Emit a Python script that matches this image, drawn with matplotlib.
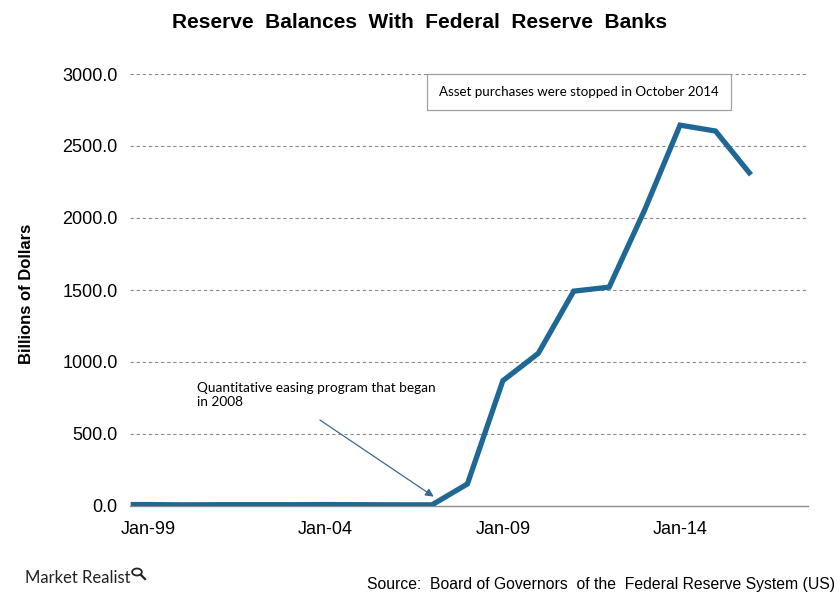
import matplotlib
matplotlib.use("Agg")
import matplotlib.pyplot as plt
from matplotlib.patches import Circle
from matplotlib.lines import Line2D

plt.rcParams['font.family'] = ['Liberation Sans', 'DejaVu Sans']

# Data (billions of dollars, annual readings)
years = [1998.5, 1999, 2000, 2001, 2002, 2003, 2004, 2005, 2006, 2007,
         2008, 2009, 2010, 2011, 2012, 2013, 2014, 2015, 2016]
balances = [10, 10, 8, 9, 9, 9, 10, 9, 8, 8,
            153, 870, 1060, 1492, 1520, 2055, 2645, 2604, 2300]
tick_years = [1999, 2004, 2009, 2014]
tick_labels = ["Jan-99", "Jan-04", "Jan-09", "Jan-14"]
y_ticks = [0, 500, 1000, 1500, 2000, 2500, 3000]

fig = plt.figure(figsize=(8.4, 6.0), dpi=100)
ax = fig.add_axes([130/840, 1-506/600, 678/840, 432/600])

ax.plot(years, balances, color='#1f6794', linewidth=3.8, solid_joinstyle='miter',
        solid_capstyle='butt', zorder=3)

ax.set_xlim(1998.48, 2017.61)
ax.set_ylim(0, 3000)
ax.set_yticks(y_ticks)
ax.set_yticklabels([f"{v:.1f}" for v in y_ticks], fontsize=13)
ax.set_xticks(tick_years)
ax.set_xticklabels(tick_labels, fontsize=13)
ax.tick_params(length=0, pad=11)
ax.tick_params(axis='y', pad=9)

for s in ['top', 'right', 'left']:
    ax.spines[s].set_visible(False)
ax.spines['bottom'].set_color('#8c8c8c')
ax.spines['bottom'].set_linewidth(1.0)

for v in y_ticks[1:]:
    ax.axhline(v, color='#8a8a8a', linewidth=0.8, linestyle=(0, (3, 2.5)), zorder=1)

ax.set_ylabel("Billions of Dollars", fontsize=12, fontweight='bold')
ax.yaxis.set_label_coords(-0.142, 0.49)

fig.text(0.5, 1-22/600, "Reserve  Balances  With  Federal  Reserve  Banks",
         ha='center', va='center', fontsize=15, fontweight='bold')

# Annotation box
ax.annotate("Asset purchases were stopped in October 2014",
            xy=(439/840, 1-92/600), xycoords='figure fraction',
            ha='left', va='center', fontsize=9.6, family=['Lato', 'DejaVu Sans'],
            bbox=dict(boxstyle='square,pad=0.9', fc='white', ec='#a0a0a0', lw=0.9))

# QE annotation with arrow
fig.text(197/840, 1-395/600, "Quantitative easing program that began\nin 2008",
         ha='left', va='center', fontsize=9.8, family=['Lato', 'DejaVu Sans'],
         linespacing=1.3)
ax.annotate("", xy=(2007.05, 65), xytext=(2003.84, 597),
            arrowprops=dict(arrowstyle='-|>', color='#3a6a8f', lw=0.9,
                            mutation_scale=12, shrinkA=0, shrinkB=0))

fig.text(835/840, 1-585/600,
         "Source:  Board of Governors  of the  Federal Reserve System (US)",
         ha='right', va='center', fontsize=11.3)

fig.text(25/840, 1-578/600, "Market Realist", ha='left', va='center',
         fontsize=12, color='#222222', family=['Lato', 'DejaVu Sans'])
fig.add_artist(Circle((137/840, 1-572/600), 0.0058, transform=fig.transFigure,
                      fill=False, ec='#222222', lw=1.3))
fig.add_artist(Line2D([141/840, 145/840], [1-575/600, 1-579/600],
                      transform=fig.transFigure, color='#222222', lw=1.6))

fig.savefig("out.png", dpi=100)
